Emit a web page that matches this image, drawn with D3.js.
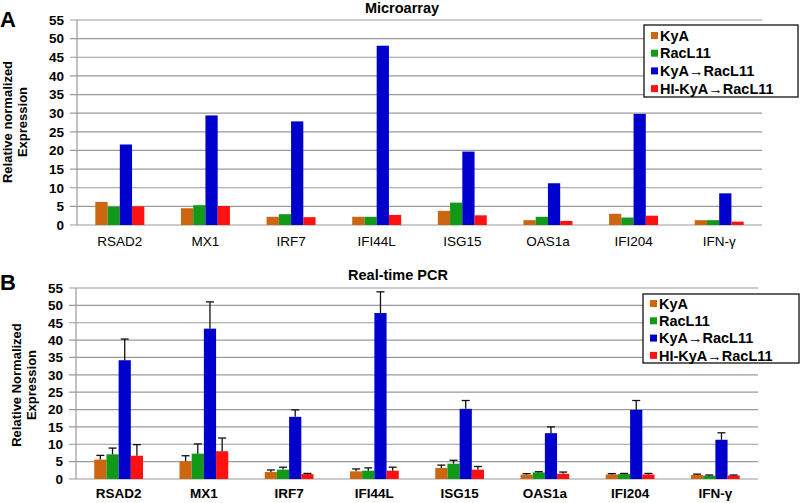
<!DOCTYPE html>
<html><head><meta charset="utf-8">
<script src="https://cdn.jsdelivr.net/npm/d3@7"></script>
<style>body{margin:0;background:#fff}svg{display:block;font-family:"Liberation Sans",Arial,sans-serif}</style>
</head><body><svg id="c" width="800" height="503"></svg>
<script>
const categories = ["RSAD2","MX1","IRF7","IFI44L","ISG15","OAS1a","IFI204","IFN-γ"];
const seriesNames = ["KyA","RacL11","KyA→RacL11","HI-KyA→RacL11"];
const seriesColors = ["#CC6611","#11991A","#0000CC","#FF1111"];
const yTicks = [0,5,10,15,20,25,30,35,40,45,50,55];

// Panel A: Microarray
const microKyA    = [6.2, 4.5, 2.2, 2.2, 3.8, 1.3, 3.0, 1.3];
const microRacL11 = [4.9, 5.3, 2.9, 2.2, 6.0, 2.2, 2.0, 1.3];
const microKyARac = [21.6, 29.4, 27.8, 48.1, 19.7, 11.2, 29.8, 8.5];
const microHIKyA  = [5.0, 5.1, 2.1, 2.7, 2.6, 1.1, 2.5, 0.9];

// Panel B: Real-time PCR (means and upper error)
const pcrKyA    = [5.6, 5.1, 2.0, 2.2, 3.2, 1.25, 1.3, 1.15];
const pcrRacL11 = [7.1, 7.3, 2.7, 2.4, 4.4, 1.9, 1.4, 0.95];
const pcrKyARac = [34.2, 43.3, 17.9, 47.8, 20.2, 13.2, 19.9, 11.3];
const pcrHIKyA  = [6.7, 8.0, 1.4, 2.4, 2.7, 1.5, 1.3, 1.0];
const pcrKyAErr    = [1.2, 1.6, 0.6, 0.7, 0.8, 0.3, 0.25, 0.25];
const pcrRacL11Err = [1.8, 2.8, 0.7, 0.8, 1.0, 0.2, 0.2, 0.2];
const pcrKyARacErr = [6.1, 7.7, 2.0, 6.1, 2.4, 1.8, 2.7, 2.0];
const pcrHIKyAErr  = [3.2, 3.8, 0.2, 1.0, 0.9, 0.5, 0.3, 0.15];

const svg = d3.select("#c");

function panel(cfg){
  const g = svg.append("g");
  const x = d3.scaleBand().domain(categories).range([cfg.x0, cfg.x1]);
  const bw = x.bandwidth();
  const x1 = d3.scaleBand().domain(seriesNames).range([bw*0.214, bw*0.786]);
  const y = d3.scaleLinear().domain([0,55]).range([cfg.yb, cfg.yt]);

  g.append("g").selectAll("line").data(yTicks).join("line")
    .attr("x1", cfg.x0-7).attr("x2", cfg.x1)
    .attr("y1", d=>y(d)).attr("y2", d=>y(d))
    .attr("stroke","#9a9a9a").attr("stroke-width",1.2);
  g.append("line").attr("x1",cfg.x0).attr("x2",cfg.x0).attr("y1",y(0)).attr("y2",y(55))
    .attr("stroke","#9a9a9a").attr("stroke-width",1.2);
  g.append("g").selectAll("text").data(yTicks).join("text")
    .attr("x", cfg.x0-13).attr("y", d=>y(d)).attr("dy","0.36em")
    .attr("text-anchor","end").attr("font-size",13.5).attr("font-weight","bold")
    .text(d=>d);

  cfg.values.forEach((vals,si)=>{
    g.append("g").selectAll("rect").data(categories).join("rect")
      .attr("x", (c)=>x(c)+x1(seriesNames[si]))
      .attr("width", x1.bandwidth())
      .attr("y", (c,i)=>y(vals[i]))
      .attr("height", (c,i)=>y(0)-y(vals[i]))
      .attr("fill", seriesColors[si]);
    if(cfg.errs){
      const errs = cfg.errs[si];
      const eg = g.append("g").selectAll("g").data(categories).join("g");
      eg.append("line")
        .attr("x1",c=>x(c)+x1(seriesNames[si])+x1.bandwidth()/2)
        .attr("x2",c=>x(c)+x1(seriesNames[si])+x1.bandwidth()/2)
        .attr("y1",(c,i)=>y(vals[i]))
        .attr("y2",(c,i)=>y(vals[i]+errs[i]))
        .attr("stroke","#111").attr("stroke-width",1.3);
      eg.append("line")
        .attr("x1",c=>x(c)+x1(seriesNames[si])+x1.bandwidth()/2-4)
        .attr("x2",c=>x(c)+x1(seriesNames[si])+x1.bandwidth()/2+4)
        .attr("y1",(c,i)=>y(vals[i]+errs[i]))
        .attr("y2",(c,i)=>y(vals[i]+errs[i]))
        .attr("stroke","#111").attr("stroke-width",1.3);
    }
  });

  g.append("g").selectAll("text").data(categories).join("text")
    .attr("x", c=>x(c)+bw/2).attr("y", cfg.labY)
    .attr("text-anchor","middle").attr("font-size",13.5)
    .attr("font-weight", cfg.labBold ? "bold":"normal")
    .text(c=>c);

  g.append("text").attr("x",cfg.titleX).attr("y",cfg.titleY)
    .attr("text-anchor","middle").attr("font-size",14.5).attr("font-weight","bold").text(cfg.title);
  g.append("text").attr("x",0).attr("y",cfg.letterY)
    .attr("font-size",22).attr("font-weight","bold").text(cfg.letter);
  const yt = g.append("text").attr("transform",`translate(${cfg.ytX},${cfg.ytY}) rotate(-90)`)
    .attr("text-anchor","middle").attr("font-size",13).attr("font-weight","bold");
  yt.append("tspan").attr("x",0).attr("dy",0).text(cfg.yTitle[0]);
  yt.append("tspan").attr("x",0).attr("dy",15).text(cfg.yTitle[1]);

  const L = cfg.legend;
  g.append("rect").attr("x",L.x).attr("y",L.y).attr("width",L.w).attr("height",L.h)
    .attr("fill","#fff").attr("stroke","#111").attr("stroke-width",1.3);
  seriesNames.forEach((s,i)=>{
    const cy = L.y + L.first + i*L.step;
    g.append("rect").attr("x",L.x+7).attr("y",cy-3.5).attr("width",7).attr("height",7).attr("fill",seriesColors[i]);
    g.append("text").attr("x",L.x+16).attr("y",cy).attr("dy","0.36em")
      .attr("font-size",14.5).attr("font-weight","bold").text(s);
  });
}

panel({x0:77,x1:762,yb:225,yt:20,values:[microKyA,microRacL11,microKyARac,microHIKyA],
  labY:246,labBold:false,title:"Microarray",titleX:402,titleY:13,letter:"A",letterY:27,
  ytX:12,ytY:122,yTitle:["Relative normalized","Expression"],
  legend:{x:644,y:25,w:154,h:72,first:10.5,step:17.7}});

panel({x0:76,x1:758,yb:479,yt:288,values:[pcrKyA,pcrRacL11,pcrKyARac,pcrHIKyA],
  errs:[pcrKyAErr,pcrRacL11Err,pcrKyARacErr,pcrHIKyAErr],
  labY:498,labBold:true,title:"Real-time PCR",titleX:398,titleY:280,letter:"B",letterY:290,
  ytX:21,ytY:385,yTitle:["Relative Normalized","Expression"],
  legend:{x:643,y:294,w:156,h:69,first:9.5,step:17.3}});
</script></body></html>
